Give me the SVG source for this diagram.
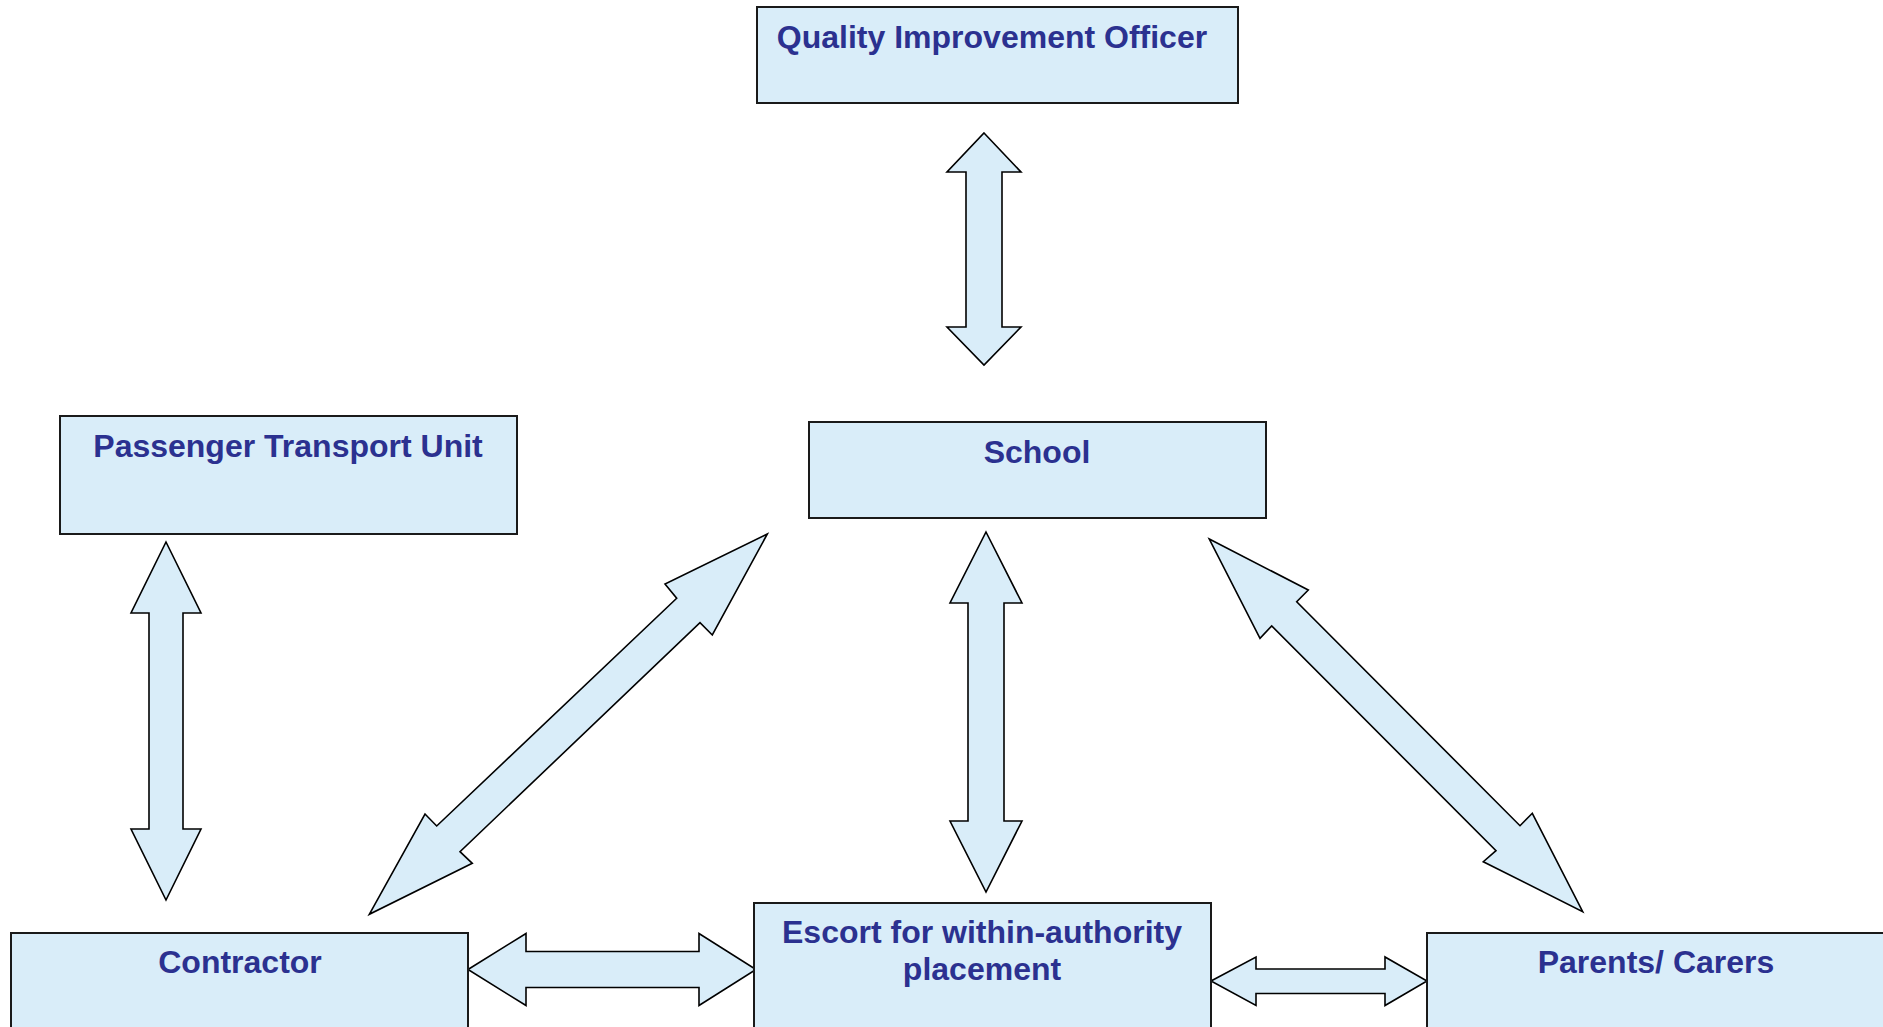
<svg xmlns="http://www.w3.org/2000/svg" width="1883" height="1027" viewBox="0 0 1883 1027">
<style>
.box{fill:#D9EDF9;stroke:#1a1a1a;stroke-width:2}
.arr{fill:#D9EDF9;stroke:#000;stroke-width:1.6;stroke-linejoin:miter}
.lbl{font-family:"Liberation Sans",Arial,sans-serif;font-weight:bold;font-size:32px;fill:#2B3190;text-anchor:middle}
</style>
<rect width="1883" height="1027" fill="#fff"/>
<g id="connectors">
<polygon class="arr" points="984,133 1021,172 1002,172 1002,327 1021,327 984,365 947,327 966,327 966,172 947,172"/>
<polygon class="arr" points="166,542 201,613 183,613 183,829 201,829 166,900 131,829 149,829 149,613 131,613"/>
<polygon class="arr" points="986,532 1022,603 1004,603 1004,821 1022,821 986,892 950,821 968,821 968,603 950,603"/>
<polygon class="arr" points="767.3,534 665,584 676.7,598.3 436.7,826 425,814 369.3,914.3 472.3,863.3 460,851.7 700,622.7 712.3,635"/>
<polygon class="arr" points="1209.3,539 1308.3,590 1296.7,601.7 1520,825.7 1532.3,813.3 1582.7,911.7 1483.3,861.7 1496,850.7 1271.7,626 1260,638.3"/>
<polygon class="arr" points="468,969.5 526,933.5 526,951.5 699,951.5 699,933.5 756,969.5 699,1005.5 699,987.5 526,987.5 526,1005.5"/>
<polygon class="arr" points="1211,981 1256,957 1256,969 1385,969 1385,957 1427,981 1385,1005.5 1385,993.5 1256,993.5 1256,1005.5"/>
</g>
<g id="qio">
<rect class="box" x="757" y="7" width="481" height="96"/>
<text class="lbl" x="992" y="48">Quality Improvement Officer</text>
</g>
<g id="ptu">
<rect class="box" x="60" y="416" width="457" height="118"/>
<text class="lbl" x="288" y="457">Passenger Transport Unit</text>
</g>
<g id="school">
<rect class="box" x="809" y="422" width="457" height="96"/>
<text class="lbl" x="1037" y="463">School</text>
</g>
<g id="contractor">
<rect class="box" x="11" y="933" width="457" height="110"/>
<text class="lbl" x="240" y="973">Contractor</text>
</g>
<g id="escort">
<rect class="box" x="754" y="903" width="457" height="140"/>
<text class="lbl" x="982" y="943">Escort for within-authority</text>
<text class="lbl" x="982" y="980">placement</text>
</g>
<g id="parents">
<rect class="box" x="1427" y="933" width="457" height="110"/>
<text class="lbl" x="1656" y="973">Parents/ Carers</text>
</g>
</svg>
